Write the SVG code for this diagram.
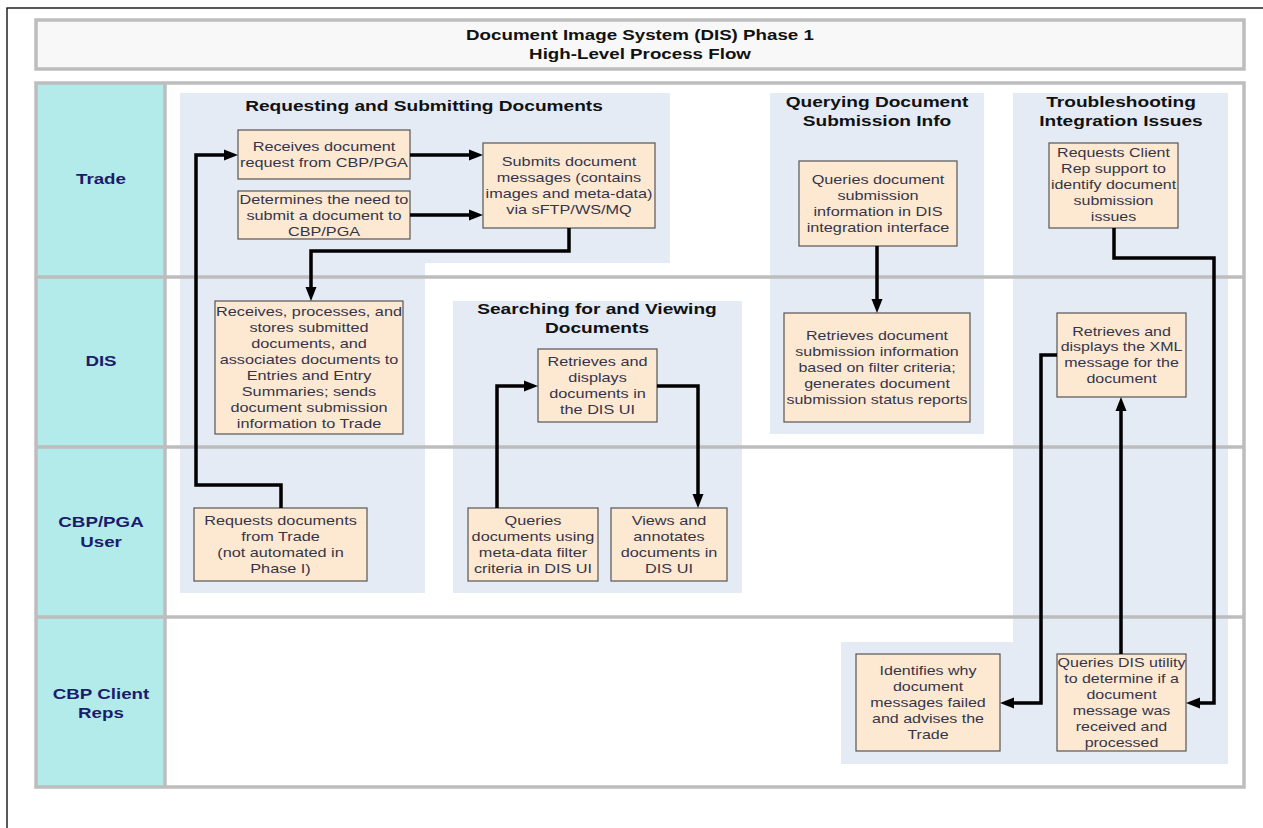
<svg xmlns="http://www.w3.org/2000/svg" width="1263" height="828" viewBox="0 0 1263 828">
<defs>
<style>
.nd{fill:#fde9d2;stroke:#555555;stroke-width:1.2}
.nt{font-family:"Liberation Sans",Arial,sans-serif;font-size:13px;fill:#35354a;text-anchor:middle}
.gt{font-family:"Liberation Sans",Arial,sans-serif;font-size:15.3px;font-weight:bold;fill:#111111;text-anchor:middle}
.lt{font-family:"Liberation Sans",Arial,sans-serif;font-size:15px;font-weight:bold;fill:#1c1c6b;text-anchor:middle}
.tt{font-family:"Liberation Sans",Arial,sans-serif;font-size:15px;font-weight:bold;fill:#111111;text-anchor:middle}
.grp{fill:#e5ebf5}
.ln{fill:none;stroke:#bdbdbd;stroke-width:3.5}
.cn{fill:none;stroke:#000000;stroke-width:3.5;stroke-linejoin:miter;marker-end:url(#ah)}
</style>
<marker id="ah" markerUnits="userSpaceOnUse" markerWidth="14" markerHeight="12" refX="4" refY="6" orient="auto">
<path d="M0,0.5 L14,6 L0,11.5 Z" fill="#000000"/>
</marker>
</defs>
<rect x="0" y="0" width="1263" height="828" fill="#ffffff"/>
<rect x="7" y="8" width="1280" height="840" fill="none" stroke="#000000" stroke-width="1.3"/>

<g id="title">
<rect x="36" y="20" width="1208" height="49" fill="#f8f8f8" stroke="#bdbdbd" stroke-width="3.5"/>
<text class="tt" transform="translate(640,40) scale(1.25,1)"><tspan x="0">Document Image System (DIS) Phase 1</tspan><tspan x="0" dy="19">High-Level Process Flow</tspan></text>
</g>

<g id="lanes-bg">
<rect x="36" y="83" width="1208" height="704" fill="#ffffff"/>
<rect x="36" y="83" width="129" height="704" fill="#b3ebeb"/>
</g>

<g id="groups">
<path class="grp" d="M180,93 H670 V263 H425 V593 H180 Z"/>
<rect class="grp" x="770" y="93" width="214" height="341"/>
<path class="grp" d="M1013,93 H1228 V764 H841 V642 H1013 Z"/>
<rect class="grp" x="453" y="301" width="289" height="292"/>
</g>

<g id="lanes">
<path class="ln" d="M36,83 H1244 V787 H36 Z M165,83 V787 M36,277 H1244 M36,447 H1244 M36,617 H1244"/>
<text class="lt" transform="translate(101,184) scale(1.25,1)">Trade</text>
<text class="lt" transform="translate(101,366) scale(1.25,1)">DIS</text>
<text class="lt" transform="translate(101,527) scale(1.25,1)"><tspan x="0">CBP/PGA</tspan><tspan x="0" dy="20">User</tspan></text>
<text class="lt" transform="translate(101,699) scale(1.25,1)"><tspan x="0">CBP Client</tspan><tspan x="0" dy="19">Reps</tspan></text>
</g>

<g id="group-titles">
<text class="gt" transform="translate(424,111) scale(1.25,1)">Requesting and Submitting Documents</text>
<text class="gt" transform="translate(877,107) scale(1.25,1)"><tspan x="0">Querying Document</tspan><tspan x="0" dy="19">Submission Info</tspan></text>
<text class="gt" transform="translate(1121,107) scale(1.25,1)"><tspan x="0">Troubleshooting</tspan><tspan x="0" dy="19">Integration Issues</tspan></text>
<text class="gt" transform="translate(597,314) scale(1.25,1)"><tspan x="0">Searching for and Viewing</tspan><tspan x="0" dy="19">Documents</tspan></text>
</g>

<g id="n1">
<rect class="nd" x="238" y="130" width="172" height="49"/>
<text class="nt" transform="translate(324,151) scale(1.25,1)"><tspan x="0">Receives document</tspan><tspan x="0" dy="16">request from CBP/PGA</tspan></text>
</g>
<g id="n2">
<rect class="nd" x="238" y="191" width="172" height="48"/>
<text class="nt" transform="translate(324,204) scale(1.25,1)"><tspan x="0">Determines the need to</tspan><tspan x="0" dy="16">submit a document to</tspan><tspan x="0" dy="16">CBP/PGA</tspan></text>
</g>
<g id="n3">
<rect class="nd" x="483" y="143" width="172" height="85"/>
<text class="nt" transform="translate(569,166) scale(1.25,1)"><tspan x="0">Submits document</tspan><tspan x="0" dy="16">messages (contains</tspan><tspan x="0" dy="16">images and meta-data)</tspan><tspan x="0" dy="16">via sFTP/WS/MQ</tspan></text>
</g>
<g id="n4">
<rect class="nd" x="215" y="301" width="188" height="133"/>
<text class="nt" transform="translate(309,316) scale(1.25,1)"><tspan x="0">Receives, processes, and</tspan><tspan x="0" dy="16">stores submitted</tspan><tspan x="0" dy="16">documents, and</tspan><tspan x="0" dy="16">associates documents to</tspan><tspan x="0" dy="16">Entries and Entry</tspan><tspan x="0" dy="16">Summaries; sends</tspan><tspan x="0" dy="16">document submission</tspan><tspan x="0" dy="16">information to Trade</tspan></text>
</g>
<g id="n5">
<rect class="nd" x="194" y="508" width="173" height="73"/>
<text class="nt" transform="translate(280.5,525) scale(1.25,1)"><tspan x="0">Requests documents</tspan><tspan x="0" dy="16">from Trade</tspan><tspan x="0" dy="16">(not automated in</tspan><tspan x="0" dy="16">Phase I)</tspan></text>
</g>
<g id="n6">
<rect class="nd" x="538" y="349" width="119" height="73"/>
<text class="nt" transform="translate(597.5,366) scale(1.25,1)"><tspan x="0">Retrieves and</tspan><tspan x="0" dy="16">displays</tspan><tspan x="0" dy="16">documents in</tspan><tspan x="0" dy="16">the DIS UI</tspan></text>
</g>
<g id="n7">
<rect class="nd" x="468" y="508" width="130" height="73"/>
<text class="nt" transform="translate(533,525) scale(1.25,1)"><tspan x="0">Queries</tspan><tspan x="0" dy="16">documents using</tspan><tspan x="0" dy="16">meta-data filter</tspan><tspan x="0" dy="16">criteria in DIS UI</tspan></text>
</g>
<g id="n8">
<rect class="nd" x="611" y="508" width="116" height="73"/>
<text class="nt" transform="translate(669,525) scale(1.25,1)"><tspan x="0">Views and</tspan><tspan x="0" dy="16">annotates</tspan><tspan x="0" dy="16">documents in</tspan><tspan x="0" dy="16">DIS UI</tspan></text>
</g>
<g id="n9">
<rect class="nd" x="799" y="161" width="158" height="85"/>
<text class="nt" transform="translate(878,184) scale(1.25,1)"><tspan x="0">Queries document</tspan><tspan x="0" dy="16">submission</tspan><tspan x="0" dy="16">information in DIS</tspan><tspan x="0" dy="16">integration interface</tspan></text>
</g>
<g id="n10">
<rect class="nd" x="784" y="313" width="186" height="109"/>
<text class="nt" transform="translate(877,340) scale(1.23,1)"><tspan x="0">Retrieves document</tspan><tspan x="0" dy="16">submission information</tspan><tspan x="0" dy="16">based on filter criteria;</tspan><tspan x="0" dy="16">generates document</tspan><tspan x="0" dy="16">submission status reports</tspan></text>
</g>
<g id="n11">
<rect class="nd" x="1049" y="143" width="129" height="85"/>
<text class="nt" transform="translate(1113.5,157) scale(1.23,1)"><tspan x="0">Requests Client</tspan><tspan x="0" dy="16">Rep support to</tspan><tspan x="0" dy="16">identify document</tspan><tspan x="0" dy="16">submission</tspan><tspan x="0" dy="16">issues</tspan></text>
</g>
<g id="n12">
<rect class="nd" x="1057" y="313" width="129" height="84"/>
<text class="nt" transform="translate(1121.5,335.5) scale(1.23,1)"><tspan x="0">Retrieves and</tspan><tspan x="0" dy="16">displays the XML</tspan><tspan x="0" dy="16">message for the</tspan><tspan x="0" dy="16">document</tspan></text>
</g>
<g id="n13">
<rect class="nd" x="856" y="654" width="144" height="97"/>
<text class="nt" transform="translate(928,675) scale(1.23,1)"><tspan x="0">Identifies why</tspan><tspan x="0" dy="16">document</tspan><tspan x="0" dy="16">messages failed</tspan><tspan x="0" dy="16">and advises the</tspan><tspan x="0" dy="16">Trade</tspan></text>
</g>
<g id="n14">
<rect class="nd" x="1057" y="654" width="129" height="97"/>
<text class="nt" transform="translate(1121.5,667) scale(1.23,1)"><tspan x="0">Queries DIS utility</tspan><tspan x="0" dy="16">to determine if a</tspan><tspan x="0" dy="16">document</tspan><tspan x="0" dy="16">message was</tspan><tspan x="0" dy="16">received and</tspan><tspan x="0" dy="16">processed</tspan></text>
</g>

<g id="connectors">
<path class="cn" d="M281,508 V485 H196 V155 H228"/>
<path class="cn" d="M410,155 H473"/>
<path class="cn" d="M410,215 H473"/>
<path class="cn" d="M569,228 V251 H311 V291"/>
<path class="cn" d="M497,508 V386 H528"/>
<path class="cn" d="M657,386 H698 V498"/>
<path class="cn" d="M877,246 V303"/>
<path class="cn" d="M1114,228 V258 H1214 V703 H1196"/>
<path class="cn" d="M1121,654 V407"/>
<path class="cn" d="M1057,355 H1041 V703 H1010"/>
</g>
</svg>
